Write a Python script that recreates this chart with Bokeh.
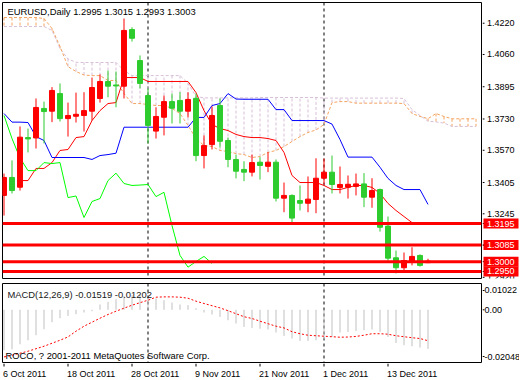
from bokeh.plotting import figure
from bokeh.models import Range1d, Span, Label
from bokeh.layouts import column, row
from bokeh.core.properties import value
from bokeh.embed import file_html
from bokeh.resources import INLINE

NaN = float("nan")

header = "EURUSD,Daily  1.2995 1.3015 1.2993 1.3003"
macd_title = "MACD(12,26,9) -0.01519 -0.01202"
copyright_text = "ROCO, ? 2001-2011 MetaQuotes Software Corp."

date_labels = ["6 Oct 2011", "18 Oct 2011", "28 Oct 2011", "9 Nov 2011",
               "21 Nov 2011", "1 Dec 2011", "13 Dec 2011"]
date_bars = [0, 8, 16, 24, 32, 40, 48]
month_separators = [18, 40]

price_ticks = [1.4220, 1.4060, 1.3895, 1.3730, 1.3570, 1.3405, 1.3245, 1.3085, 1.2920]
price_tick_text = ["1.4220", "1.4060", "1.3895", "1.3730", "1.3570", "1.3405", "1.3245",
                   "1.3085", "1.2920"]
levels = [1.3195, 1.3085, 1.3000, 1.2950]
level_text = ["1.3195", "1.3085", "1.3000", "1.2950"]

opens = [1.3339, 1.3431, 1.3381, 1.3635, 1.3633, 1.3784, 1.3770, 1.3860, 1.3732, 1.3744,
         1.3748, 1.3770, 1.3835, 1.3922, 1.3904, 1.3898, 1.4188, 1.4029, 1.3850, 1.3668,
         1.3739, 1.3819, 1.3825, 1.3770, 1.3836, 1.3543, 1.3599, 1.3799, 1.3620, 1.3523,
         1.3472, 1.3458, 1.3509, 1.3488, 1.3509, 1.3325, 1.3339, 1.3313, 1.3299, 1.3318,
         1.3427, 1.3458, 1.3380, 1.3381, 1.3385, 1.3398, 1.3330, 1.3369, 1.3182, 1.3020,
         1.2969, 1.3003, 1.3032, 1.2995]
highs = [1.3451, 1.3518, 1.3692, 1.3681, 1.3835, 1.3819, 1.3893, 1.3912, 1.3814, 1.3865,
         1.3867, 1.3942, 1.3958, 1.3978, 1.3973, 1.4244, 1.4199, 1.4055, 1.3886, 1.3790,
         1.3850, 1.3860, 1.3867, 1.3867, 1.3860, 1.3646, 1.3794, 1.3835, 1.3635, 1.3548,
         1.3514, 1.3548, 1.3535, 1.3560, 1.3523, 1.3405, 1.3344, 1.3390, 1.3436, 1.3529,
         1.3528, 1.3543, 1.3487, 1.3441, 1.3451, 1.3453, 1.3427, 1.3374, 1.3231, 1.3057,
         1.3047, 1.3074, 1.3037, 1.3015]
lows = [1.3236, 1.3349, 1.3364, 1.3559, 1.3579, 1.3605, 1.3714, 1.3717, 1.3640, 1.3712,
        1.3666, 1.3722, 1.3814, 1.3841, 1.3790, 1.3835, 1.4126, 1.3886, 1.3605, 1.3630,
        1.3646, 1.3707, 1.3707, 1.3738, 1.3514, 1.3477, 1.3574, 1.3584, 1.3483, 1.3426,
        1.3412, 1.3436, 1.3420, 1.3458, 1.3308, 1.3253, 1.3202, 1.3262, 1.3253, 1.3248,
        1.3395, 1.3349, 1.3349, 1.3323, 1.3339, 1.3279, 1.3276, 1.3154, 1.2997, 1.2940,
        1.2945, 1.2981, 1.2975, 1.2993]
closes = [1.3431, 1.3364, 1.3637, 1.3628, 1.3789, 1.3768, 1.3876, 1.3732, 1.3748, 1.3754,
          1.3773, 1.3891, 1.3922, 1.3898, 1.3899, 1.4183, 1.4143, 1.3912, 1.3697, 1.3743,
          1.3819, 1.3785, 1.3770, 1.3830, 1.3543, 1.3594, 1.3748, 1.3616, 1.3523, 1.3463,
          1.3458, 1.3507, 1.3492, 1.3509, 1.3325, 1.3339, 1.3223, 1.3299, 1.3320, 1.3427,
          1.3458, 1.3395, 1.3395, 1.3396, 1.3398, 1.3330, 1.3364, 1.3176, 1.3018, 1.2969,
          1.3006, 1.3027, 1.2981, 1.3003]

tenkan = [NaN, NaN, 1.3415, 1.3415, 1.3477, 1.3477, 1.3507, 1.3569, 1.3574, 1.3635,
          1.3640, 1.3722, 1.3773, 1.3809, 1.3814, 1.3942, 1.3942, 1.3942, 1.3922, 1.3922,
          1.3922, 1.3922, 1.3922, 1.3922, 1.3865, 1.3773, 1.3702, 1.3681, 1.3671, 1.3651,
          1.3640, 1.3635, 1.3635, 1.3630, 1.3620, 1.3559, 1.3441, 1.3405, 1.3405, 1.3405,
          1.3390, 1.3369, 1.3369, 1.3380, 1.3390, 1.3390, 1.3380, 1.3349, 1.3298, 1.3262,
          1.3231, 1.3200, 1.3195, 1.3195]
kijun = [1.3758, 1.3714, 1.3714, 1.3712, 1.3640, 1.3620, 1.3533, 1.3533, 1.3533, 1.3533,
         1.3533, 1.3523, 1.3543, 1.3548, 1.3555, 1.3688, 1.3688, 1.3688, 1.3688, 1.3688,
         1.3688, 1.3688, 1.3688, 1.3688, 1.3738, 1.3738, 1.3799, 1.3809, 1.3860, 1.3832,
         1.3831, 1.3831, 1.3831, 1.3831, 1.3778, 1.3778, 1.3722, 1.3722, 1.3722, 1.3722,
         1.3722, 1.3704, 1.3625, 1.3535, 1.3535, 1.3535, 1.3535, 1.3483, 1.3426, 1.3390,
         1.3369, 1.3369, 1.3369, 1.3293]
chikou = [1.3748, 1.3630, 1.3530, 1.3466, 1.3466, 1.3507, 1.3502, 1.3507, 1.3328, 1.3336,
          1.3226, 1.3308, 1.3323, 1.3415, 1.3453, 1.3400, 1.3390, 1.3392, 1.3395, 1.3333,
          1.3355, 1.3185, 1.3032, 1.2972, 1.3001, 1.3027, 1.2991]
span_a = [1.4249, 1.4249, 1.4249, 1.4249, 1.4249, 1.4244, 1.4193, 1.4101, 1.3998, 1.3973,
          1.3955, 1.3952, 1.3952, 1.3927, 1.3927, 1.3860, 1.3809, 1.3809, 1.3804, 1.3799,
          1.3799, 1.3784, 1.3758, 1.3697, 1.3630, 1.3594, 1.3589, 1.3569, 1.3564, 1.3553,
          1.3548, 1.3533, 1.3538, 1.3559, 1.3569, 1.3589, 1.3615, 1.3640, 1.3661, 1.3674,
          1.3702, 1.3814, 1.3819, 1.3819, 1.3811, 1.3811, 1.3811, 1.3811, 1.3811, 1.3811,
          1.3809, 1.3758, 1.3743, 1.3732, 1.3758, 1.3743, 1.3731, 1.3731, 1.3731, 1.3731]
span_b = [1.4203, 1.4203, 1.4203, 1.4203, 1.4203, 1.4203, 1.4183, 1.4091, 1.4037, 1.4020,
          1.4019, 1.4019, 1.4019, 1.4019, 1.4019, 1.3978, 1.3952, 1.3952, 1.3952, 1.3952,
          1.3952, 1.3952, 1.3952, 1.3912, 1.3845, 1.3838, 1.3838, 1.3838, 1.3838, 1.3838,
          1.3838, 1.3838, 1.3840, 1.3840, 1.3840, 1.3840, 1.3840, 1.3840, 1.3840, 1.3840,
          1.3837, 1.3837, 1.3837, 1.3837, 1.3837, 1.3837, 1.3837, 1.3837, 1.3837, 1.3837,
          1.3835, 1.3778, 1.3748, 1.3719, 1.3715, 1.3709, 1.3692, 1.3692, 1.3692, 1.3692]

macd_main = [-0.01572, -0.01533, -0.01338, -0.01183, -0.00988, -0.00755, -0.00482, -0.00327,
             -0.00237, -0.00171, -0.00105, -0.00054, 0.00206, 0.00307, 0.00412, 0.00541,
             0.00568, 0.00595, 0.00568, 0.00440, 0.00373, 0.00284, 0.00206, 0.00179,
             0.00062, -0.00105, -0.00183, -0.00276, -0.00405, -0.00533, -0.00665, -0.00704,
             -0.00735, -0.00766, -0.00883, -0.01015, -0.01116, -0.01210, -0.01210, -0.01183,
             -0.01144, -0.01054, -0.00883, -0.00860, -0.00821, -0.00794, -0.00766, -0.00860,
             -0.01054, -0.01288, -0.01377, -0.01416, -0.01467, -0.01519]
macd_signal = [-0.01832, -0.01766, -0.01688, -0.01610, -0.01513, -0.01416, -0.01299, -0.01183,
               -0.01054, -0.00832, -0.00638, -0.00482, -0.00327, -0.00183, -0.00054, 0.00062,
               0.00179, 0.00276, 0.00373, 0.00490, 0.00502, 0.00502, 0.00490, 0.00451,
               0.00335, 0.00245, 0.00159, 0.00074, -0.00035, -0.00152, -0.00268, -0.00338,
               -0.00443, -0.00541, -0.00638, -0.00704, -0.00852, -0.00930, -0.00988, -0.01008,
               -0.01027, -0.01046, -0.01066, -0.01058, -0.01035, -0.00988, -0.00930, -0.00930,
               -0.00949, -0.01008, -0.01046, -0.01085, -0.01116, -0.01202]
macd_range = (-0.02048, 0.01022)
macd_tick_pos = [0.00750, 0.0, -0.01815]
macd_tick_text = ["0.01022", "0.00", "-0.02048"]

FONT = "Liberation Sans"
FS = "9px"
TFS = "9.4px"
FW, FH, MH, AW, DH = 479, 276, 79, 37, 16
BULL, BEAR = "#FF0000", "#2ECC2E"

idx = list(range(len(opens)))
cloud_idx = list(range(len(span_a)))
x_range = Range1d(-0.1875, 59.6875)
price_range = Range1d(1.2914, 1.4326)
macd_yrange = Range1d(*macd_range)


def base(fig):
    fig.grid.visible = False
    fig.background_fill_color = "white"
    fig.border_fill_color = "white"
    return fig


# ---------------- main price pane ----------------
p = base(figure(frame_width=FW, frame_height=FH, x_range=x_range, y_range=price_range,
                output_backend="svg", toolbar_location=None, x_axis_location=None,
                y_axis_location=None, min_border_left=2, min_border_top=2,
                min_border_bottom=5, min_border_right=1))
p.outline_line_color = "black"

for s in month_separators:
    p.add_layout(Span(location=s, dimension="height", line_color="black",
                      line_dash="3 3", line_width=1, level="underlay"))

hatch_colors = ["#F4A460" if a >= b else "#D8BFD8" for a, b in zip(span_a, span_b)]
p.segment(cloud_idx, span_a, cloud_idx, span_b, line_color=hatch_colors,
          line_dash="3 2", line_width=1)
p.line(cloud_idx, span_b, line_color="#D8BFD8", line_dash="3 2", line_width=1)
p.line(cloud_idx, span_a, line_color="#F4A460", line_dash="3 2", line_width=1)

p.line(idx, tenkan, line_color="#FF0000", line_width=1)
p.line(idx, kijun, line_color="#0000FF", line_width=1)
p.line(list(range(len(chikou))), chikou, line_color="#00FF00", line_width=1)

ccol = [BULL if c >= o else BEAR for o, c in zip(opens, closes)]
p.segment(idx, highs, idx, lows, line_color=ccol, line_width=1)
p.vbar(x=idx, width=0.62, top=[max(o, c) for o, c in zip(opens, closes)],
       bottom=[min(o, c) for o, c in zip(opens, closes)], fill_color=ccol, line_color=ccol)

for lv in levels:
    p.add_layout(Span(location=lv, dimension="width", line_color="#FF0000", line_width=3))

p.add_layout(Label(x=5, y=FH - 9, x_units="screen", y_units="screen", text=header,
                   text_font=FONT, text_font_size=TFS, text_color="black",
                   text_baseline="middle"))

# ---------------- price scale (right) ----------------
pa = base(figure(frame_width=AW, frame_height=FH, x_range=Range1d(0, AW), y_range=price_range,
                 output_backend="svg", toolbar_location=None, x_axis_location=None,
                 y_axis_location=None, min_border_left=0, min_border_top=2,
                 min_border_bottom=5, min_border_right=0))
pa.outline_line_color = None
pa.segment(x0=0, x1=2, y0=price_ticks, y1=price_ticks, line_color="black", line_width=1)
pa.text(x=4.5, y=price_ticks, text=price_tick_text, text_font=value(FONT),
        text_font_size=FS, text_color="black", text_baseline="middle", text_align="left")
pa.segment(x0=0, x1=2, y0=levels, y1=levels, line_color="black", line_width=1)
pa.rect(x=18.5, y=levels, width=35, height=10, height_units="screen",
        fill_color="#FF0000", line_color=None)
pa.text(x=4.5, y=levels, text=level_text, text_font=value(FONT), text_font_size=FS,
        text_color="white", text_baseline="middle", text_align="left")

# ---------------- MACD pane ----------------
m = base(figure(frame_width=FW, frame_height=MH, x_range=x_range, y_range=macd_yrange,
                output_backend="svg", toolbar_location=None, x_axis_location=None,
                y_axis_location=None, min_border_left=2, min_border_top=0,
                min_border_bottom=1, min_border_right=1))
m.outline_line_color = "black"
for s in month_separators:
    m.add_layout(Span(location=s, dimension="height", line_color="black",
                      line_dash="3 3", line_width=1, level="underlay"))
m.segment(idx, [0] * len(idx), idx, macd_main, line_color="#C0C0C0", line_width=1)
m.line(idx, macd_signal, line_color="#FF0000", line_dash="2 2", line_width=1)
m.add_layout(Label(x=5, y=MH - 10.5, x_units="screen", y_units="screen", text=macd_title,
                   text_font=FONT, text_font_size=TFS, text_color="#202020",
                   text_baseline="middle"))
m.add_layout(Label(x=3, y=7.5, x_units="screen", y_units="screen", text=copyright_text,
                   text_font=FONT, text_font_size=TFS, text_color="black",
                   text_baseline="middle"))

ma = base(figure(frame_width=AW, frame_height=MH, x_range=Range1d(0, AW), y_range=macd_yrange,
                 output_backend="svg", toolbar_location=None, x_axis_location=None,
                 y_axis_location=None, min_border_left=0, min_border_top=0,
                 min_border_bottom=1, min_border_right=0))
ma.outline_line_color = None
ma.segment(x0=0, x1=2, y0=macd_tick_pos, y1=macd_tick_pos, line_color="black", line_width=1)
ma.text(x=2, y=macd_tick_pos, text=macd_tick_text, text_font=value(FONT), text_font_size=FS,
        text_color="black", text_baseline="middle", text_align="left")

# ---------------- date scale ----------------
d = base(figure(frame_width=FW, frame_height=DH, x_range=x_range, y_range=Range1d(0, DH),
                output_backend="svg", toolbar_location=None, x_axis_location=None,
                y_axis_location=None, min_border_left=2, min_border_top=0,
                min_border_bottom=0, min_border_right=AW + 1))
d.outline_line_color = None
d.segment(x0=date_bars, x1=date_bars, y0=DH, y1=DH - 3, line_color="black", line_width=1)
d.text(x=date_bars, y=DH - 10, text=date_labels, text_font=value(FONT), text_font_size=FS,
       text_color="black", text_baseline="middle", text_align="left", x_offset=-1)

layout = column(row(p, pa, spacing=0), row(m, ma, spacing=0), d, spacing=0)
open("out.html", "w").write(file_html(layout, INLINE))
